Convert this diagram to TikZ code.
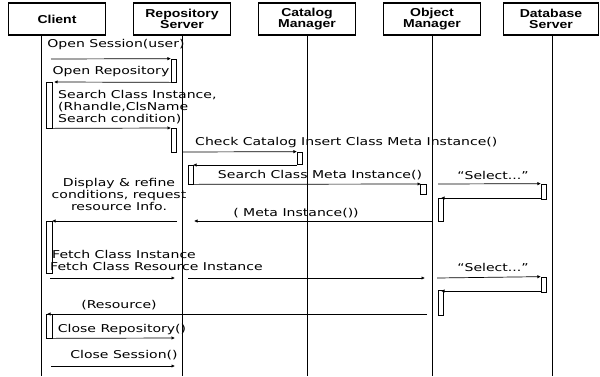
\documentclass[tikz,border=0pt]{standalone}
\usepackage{fontspec}
\setmainfont[FakeStretch=1.3]{DejaVu Sans}
\newfontfamily\headfont[FakeStretch=1.22]{Liberation Sans}
\usetikzlibrary{arrows.meta}
\tikzset{
  x=1bp,y=-1bp,
  head/.style={draw,line width=1.1bp,minimum width=97bp,minimum height=32bp,inner sep=0pt,align=center,
    font=\headfont\bfseries\fontsize{11.5bp}{11.5bp}\selectfont},
  life/.style={line width=0.9bp},
  act/.style={draw,line width=0.7bp,inner sep=0pt,minimum width=5.5bp,fill=white},
  msg/.style={line width=0.7bp,-{Latex[length=3.5bp,width=3.5bp]}},
  lab/.style={inner sep=0pt,align=left,font=\fontsize{10.8bp}{11.6bp}\selectfont},
  cen/.style={inner sep=0pt,align=center,font=\fontsize{10.8bp}{12bp}\selectfont}
}
\begin{document}
\begin{tikzpicture}
\useasboundingbox (0,0) rectangle (600,376);
\fill[white] (0,0) rectangle (600,376);
% headers
\node[head] (client) at (57,19) {Client};
\node[head] (repo) at (182,19) {Repository\\Server};
\node[head] (cat) at (307,19) {Catalog\\Manager};
\node[head] (obj) at (432,19) {Object\\Manager};
\node[head,minimum width=95bp] (db) at (551,19) {Database\\Server};
% lifeline ends
\coordinate (clientS) at (41,35);
\coordinate (clientE) at (41,376);
\coordinate (repoE) at (182,376);
\coordinate (catE) at (307,376);
\coordinate (objE) at (432,376);
\coordinate (dbE) at (552,376);
\draw[life] (clientS) -- (clientE);
\draw[life] (repo.south) -- (repoE);
\draw[life] (cat.south) -- (catE);
\draw[life] (obj.south) -- (objE);
\draw[life] (db.south -| dbE) -- (dbE);
% activations
\node[act,minimum height=23bp] (a1) at (174,70.5) {};
\node[act,minimum height=46bp] (a2) at (49.5,105) {};
\node[act,minimum height=24bp] (a3) at (174,140) {};
\node[act,minimum height=12bp] (a4) at (300,158) {};
\node[act,minimum height=19bp] (a5) at (191,174.5) {};
\node[act,minimum height=10bp] (a6) at (423.5,189) {};
\node[act,minimum height=15bp] (a7) at (544,191.5) {};
\node[act,minimum height=23bp] (a8) at (441,209.5) {};
\node[act,minimum height=52bp] (a9) at (49.5,247) {};
\node[act,minimum height=15bp] (a10) at (544,284.5) {};
\node[act,minimum height=25bp] (a11) at (441,302.5) {};
\node[act,minimum height=24bp] (a12) at (49.5,326) {};
% free ends
\coordinate (m1s) at (51,59);
\coordinate (m2e) at (54,82);
\coordinate (m3e) at (171,128);
\coordinate (m4s) at (183,152);
\coordinate (m5e) at (193,165);
\coordinate (m5s) at (297,165);
\coordinate (m6e) at (421,184);
\coordinate (m7s) at (438,184);
\coordinate (m8s) at (541,198);
\coordinate (m8e) at (441,198);
\coordinate (m9a) at (432,221);
\coordinate (m9b) at (194,221);
\coordinate (m9c) at (177,221);
\coordinate (m9d) at (52,221);
\coordinate (m10a) at (50,278);
\coordinate (m10b) at (175,278);
\coordinate (m10c) at (188,278);
\coordinate (m10d) at (425,278);
\coordinate (m10e) at (437,278);
\coordinate (m12s) at (541,291);
\coordinate (m12e) at (441,291);
\coordinate (m13a) at (427,314);
\coordinate (m13b) at (47,314);
\coordinate (m14e) at (175,338);
\coordinate (m15a) at (51,366);
\coordinate (m15b) at (175,366);
% messages
\draw[msg] (m1s) -- (a1.north west);
\draw[msg] (a1.south west) -- (m2e);
\draw[msg] (a2.south east) -- (m3e);
\draw[msg] (m4s) -- (a4.north west);
\draw[msg] (m5s) -- (m5e);
\draw[msg] (a5.south east) -- (m6e);
\draw[msg] (m7s) -- (a7.north west);
\draw[msg] (m8s) -- (m8e);
\draw[msg] (m9a) -- (m9b);
\draw[msg] (m9c) -- (m9d);
\draw[msg] (m10a) -- (m10b);
\draw[msg] (m10c) -- (m10d);
\draw[msg] (m10e) -- (a10.north west);
\draw[msg] (m12s) -- (m12e);
\draw[msg] (m13a) -- (m13b);
\draw[msg] (a12.south east) -- (m14e);
\draw[msg] (m15a) -- (m15b);
% labels
\node[cen] (t1) at (116,45) {Open Session(user)};
\node[cen] (t2) at (111,72) {Open Repository};
\node[lab,anchor=north west] (t3) at (58,90.5) {Search Class Instance,\\(Rhandle,ClsName\\Search condition)};
\node[lab,anchor=west] (t4) at (195,143) {Check Catalog Insert Class Meta Instance()};
\node[cen] (t5) at (320,175) {Search Class Meta Instance()};
\node[cen] (t6) at (493,175) {“Select...”};
\node[cen,anchor=north] (t7) at (119,178) {Display \& refine\\conditions, request\\resource Info.};
\node[cen] (t8) at (296,213) {( Meta Instance())};
\node[lab,anchor=west] (t9) at (52,254) {Fetch Class Instance};
\node[lab,anchor=west] (t10) at (50,266) {Fetch Class Resource Instance};
\node[cen] (t11) at (493,267) {“Select...”};
\node[cen] (t12) at (119,305) {(Resource)};
\node[cen] (t13) at (122,330) {Close Repository()};
\node[cen] (t14) at (124,355) {Close Session()};
\end{tikzpicture}
\end{document}
